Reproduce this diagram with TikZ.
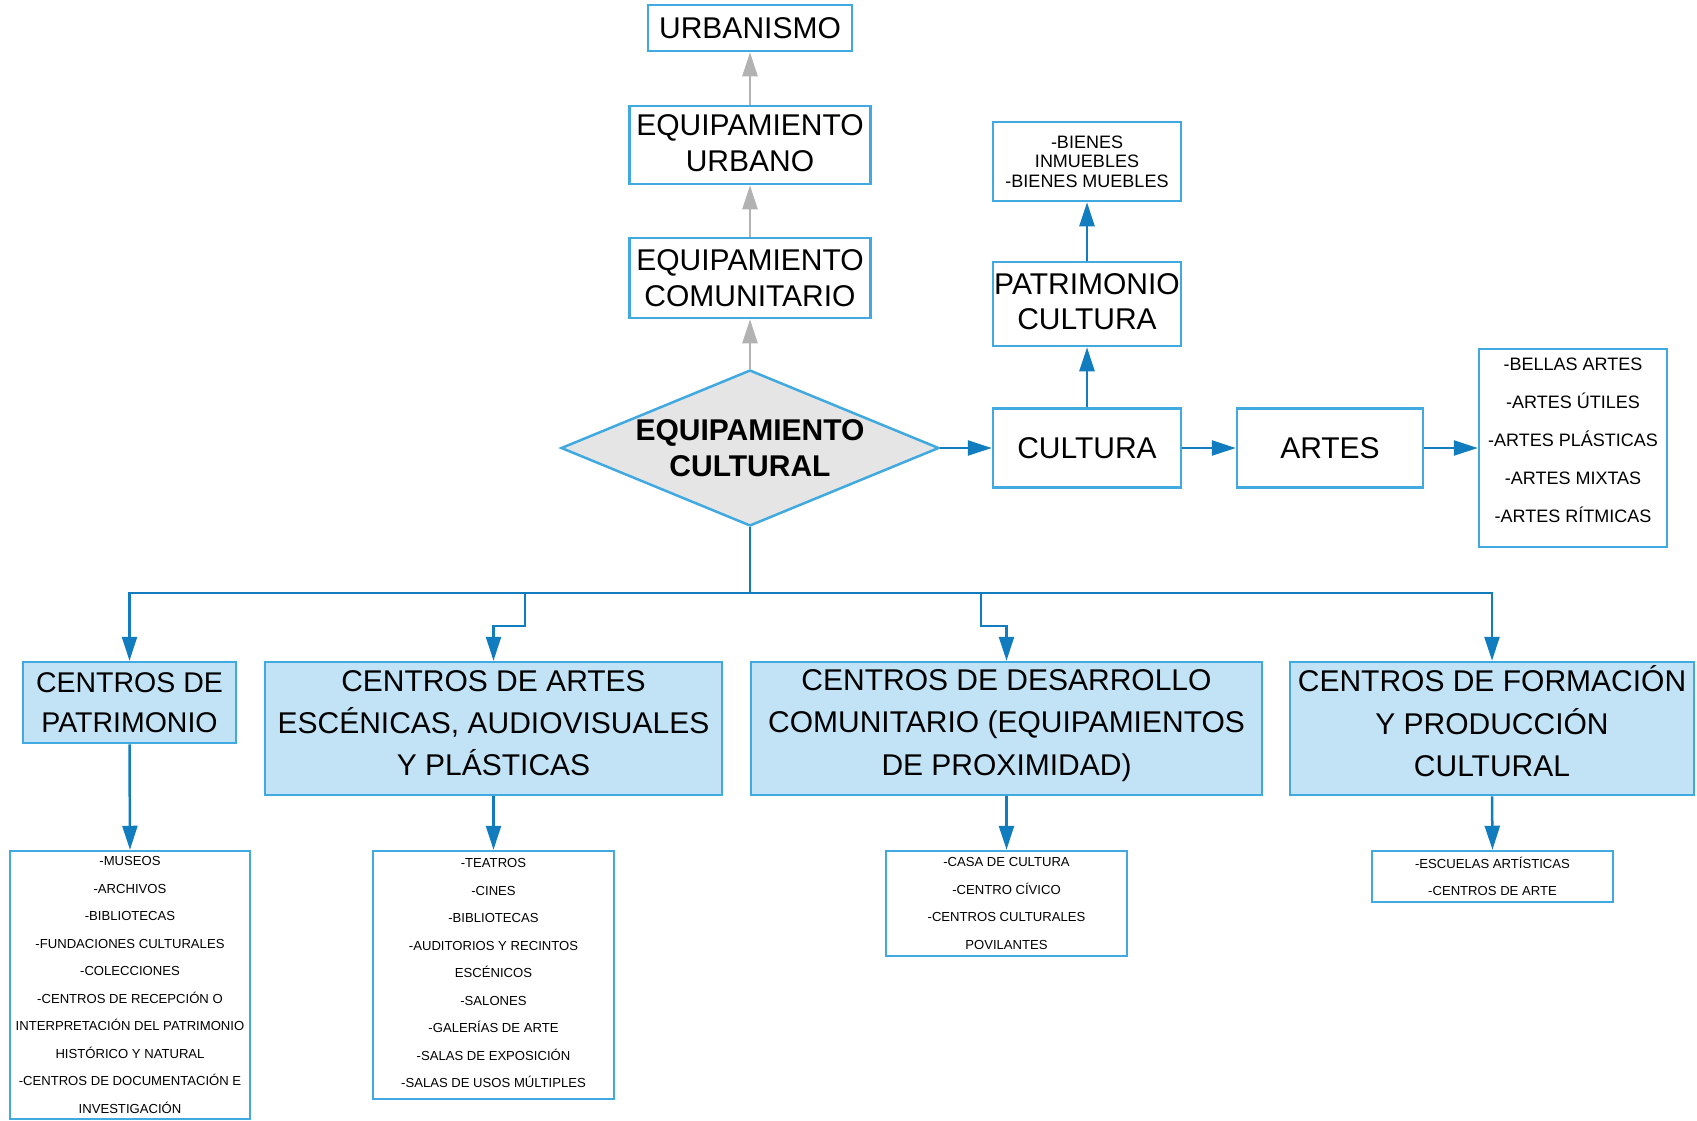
\documentclass[tikz,border=0pt]{standalone}
\usepackage{fontspec}
\setmainfont{Liberation Sans}
\usetikzlibrary{arrows.meta,shapes.geometric}
\definecolor{boxblue}{RGB}{64,169,224}
\definecolor{linkblue}{RGB}{17,124,190}
\definecolor{paleblue}{RGB}{193,227,245}
\definecolor{diamondgray}{RGB}{229,229,229}
\definecolor{arrowgray}{RGB}{178,178,178}
% extra depth below the last line
\newcommand{\lowpad}[1]{\rule[-#1]{0pt}{#1}}
\begin{document}
\begin{tikzpicture}[x=1pt, y=-1pt,
  box/.style={draw=boxblue, line width=2.5pt, fill=white, inner sep=0pt, align=center, font={\fontsize{30}{35.7}\selectfont}},
  catbox/.style={box, fill=paleblue, font={\fontsize{30}{42.2}\selectfont}},
  listbox/.style={box, font={\fontsize{13.1}{27.5}\selectfont}},
  link/.style={draw=linkblue, line width=2.5pt, -{Triangle[length=24pt,width=15pt]}},
  uplink/.style={link, draw=arrowgray}]
  \useasboundingbox (0,0) rectangle (1697,1120);
  % central diamond and upper chain
  \node[box, shape=diamond, fill=diamondgray, aspect=2.42, minimum width=378pt, minimum height=156pt, font={\bfseries\fontsize{30}{35.7}\selectfont}] (eqc) at (750,448) {EQUIPAMIENTO\\CULTURAL};
  \node[box, minimum width=204pt, minimum height=46pt] (urb) at (750,28) {URBANISMO};
  \node[box, minimum width=241pt, minimum height=78pt] (eurb) at (750,145) {EQUIPAMIENTO\\URBANO\lowpad{4pt}};
  \node[box, minimum width=241pt, minimum height=80pt] (ecom) at (750,278) {EQUIPAMIENTO\\COMUNITARIO};
  % right branch
  \node[box, minimum width=188pt, minimum height=79pt] (cult) at (1087,448) {CULTURA};
  \node[box, minimum width=188pt, minimum height=84pt] (pcul) at (1087,304) {PATRIMONIO\\CULTURA\lowpad{5pt}};
  \node[box, minimum width=188pt, minimum height=79pt, font={\fontsize{18}{19.5}\selectfont}] (bien) at (1087,161.5) {-BIENES\\INMUEBLES\\-BIENES MUEBLES};
  \node[box, minimum width=186pt, minimum height=79pt] (art) at (1330,448) {ARTES};
  \node[box, minimum width=188pt, minimum height=198pt, font={\fontsize{18}{37.9}\selectfont}] (lart) at (1573,448) {-BELLAS ARTES\\-ARTES ÚTILES\\-ARTES PLÁSTICAS\\-ARTES MIXTAS\\-ARTES RÍTMICAS\lowpad{15pt}};
  % categories
  \node[catbox, minimum width=213pt, minimum height=81pt, font={\fontsize{28.5}{40}\selectfont}] (cpat) at (129.5,702.5) {CENTROS DE\\PATRIMONIO};
  \node[catbox, minimum width=457pt, minimum height=133pt] (cart) at (493.5,728.5) {CENTROS DE ARTES\\ESCÉNICAS, AUDIOVISUALES\\Y PLÁSTICAS\lowpad{11pt}};
  \node[catbox, minimum width=511pt, minimum height=133pt] (cdes) at (1006.5,728.5) {CENTROS DE DESARROLLO\\COMUNITARIO (EQUIPAMIENTOS\\DE PROXIMIDAD)\lowpad{12pt}};
  \node[catbox, minimum width=404pt, minimum height=133pt] (cfor) at (1492,728.5) {CENTROS DE FORMACIÓN\\Y PRODUCCIÓN\\CULTURAL\lowpad{15pt}};
  % lists
  \node[listbox, minimum width=240pt, minimum height=268pt] (lpat) at (130,985) {-MUSEOS\\-ARCHIVOS\\-BIBLIOTECAS\\-FUNDACIONES CULTURALES\\-COLECCIONES\\-CENTROS DE RECEPCIÓN O\\INTERPRETACIÓN DEL PATRIMONIO\\HISTÓRICO Y NATURAL\\-CENTROS DE DOCUMENTACIÓN E\\INVESTIGACIÓN};
  \node[listbox, minimum width=241pt, minimum height=248pt] (lesc) at (493.5,975) {-TEATROS\\-CINES\\-BIBLIOTECAS\\-AUDITORIOS Y RECINTOS\\ESCÉNICOS\\-SALONES\\-GALERÍAS DE ARTE\\-SALAS DE EXPOSICIÓN\\-SALAS DE USOS MÚLTIPLES\lowpad{4pt}};
  \node[listbox, minimum width=241pt, minimum height=105pt] (ldes) at (1006.5,903.5) {-CASA DE CULTURA\\-CENTRO CÍVICO\\-CENTROS CULTURALES\\POVILANTES};
  \node[listbox, minimum width=241pt, minimum height=51pt] (lfor) at (1492.5,876.5) {-ESCUELAS ARTÍSTICAS\\-CENTROS DE ARTE};
  % connectors
  \draw[uplink] (eqc.north) -- (ecom.south);
  \draw[uplink] (ecom.north) -- (eurb.south);
  \draw[uplink] (eurb.north) -- (urb.south);
  \draw[link] (eqc.east) -- (cult.west);
  \draw[link] (cult.east) -- (art.west);
  \draw[link] (art.east) -- (lart.west);
  \draw[link] (cult.north) -- (pcul.south);
  \draw[link] (pcul.north) -- (bien.south);
  \coordinate (bus) at (750,593);
  \coordinate (jogesc) at (525,626);
  \coordinate (jogdes) at (981,626);
  \draw[link] (eqc.south) -- (bus) -| (cpat.north);
  \draw[link] (bus) -| (jogesc) -| (cart.north);
  \draw[link] (bus) -| (jogdes) -| (cdes.north);
  \draw[link] (bus) -| (cfor.north);
  \foreach \a/\b in {cpat/lpat, cart/lesc, cdes/ldes, cfor/lfor} {
    \draw[link] (\a.south) -- (\b.north);
  }
\end{tikzpicture}
\end{document}
